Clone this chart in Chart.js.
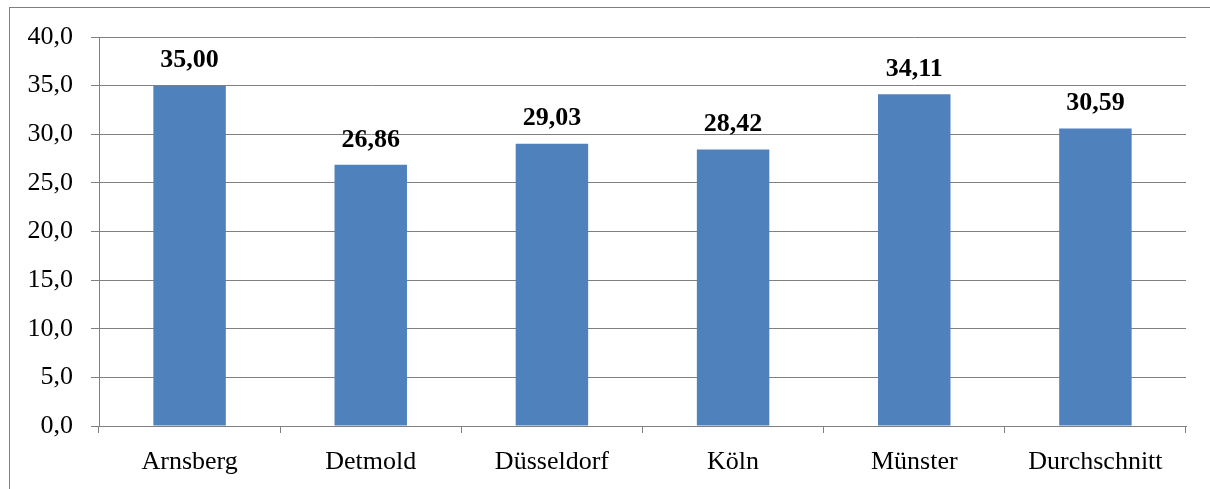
<!DOCTYPE html>
<html><head><meta charset="utf-8">
<script src="https://cdn.jsdelivr.net/npm/chart.js@4/dist/chart.umd.min.js"></script>
<style>
html,body{margin:0;padding:0;background:#fff;overflow:hidden}
#wrap{position:absolute;left:0;top:0;width:1210px;height:489px}
#frame{position:absolute;left:9px;top:7px;width:1210px;height:500px;border-left:1px solid #7f7f7f;border-top:1px solid #7f7f7f;pointer-events:none}
canvas{position:absolute;left:0;top:0}
</style></head><body>
<div id="wrap"><canvas id="c" width="1210" height="489"></canvas><div id="frame"></div></div>
<script>
const categories = ["Arnsberg","Detmold","Düsseldorf","Köln","Münster","Durchschnitt"];
const values = [35.00, 26.86, 29.03, 28.42, 34.11, 30.59];
const yTicks = [0,5,10,15,20,25,30,35,40];

const fmt = (v,d)=>v.toFixed(d).replace('.',',');
const labelPlugin = {
  id:'valLabels',
  afterDatasetsDraw(chart){
    const ctx = chart.ctx;
    const meta = chart.getDatasetMeta(0);
    ctx.save();
    ctx.font = 'bold 26px "Liberation Serif", "Times New Roman", serif';
    ctx.fillStyle = '#000';
    ctx.textAlign = 'center';
    ctx.textBaseline = 'middle';
    meta.data.forEach((bar,i)=>{
      ctx.fillText(fmt(values[i],2), bar.x, bar.y - 25);
    });
    ctx.restore();
  }
};

new Chart(document.getElementById('c'), {
  type:'bar',
  data:{labels:categories, datasets:[{data:values, backgroundColor:'#4F81BD', borderWidth:0, barPercentage:0.4, categoryPercentage:1}]},
  options:{
    responsive:false, animation:false,
    layout:{padding:{top:37,right:24,left:0,bottom:0}},
    plugins:{legend:{display:false}, tooltip:{enabled:false}},
    scales:{
      x:{
        grid:{display:true, drawOnChartArea:false, drawTicks:true, tickLength:7, offset:true, color:'#808080', lineWidth:1},
        border:{display:true, color:'#808080', width:1},
        ticks:{color:'#000', font:{family:'"Liberation Serif", "Times New Roman", serif', size:26}, padding:14, maxRotation:0, autoSkip:false},
        afterFit(s){ s.height = 63; }
      },
      y:{
        min:0, max:40,
        afterBuildTicks(s){ s.ticks = yTicks.map(v=>({value:v})); },
        grid:{color:'#808080', lineWidth:1, drawTicks:true, tickLength:8},
        border:{display:true, color:'#808080', width:1},
        ticks:{color:'#000', font:{family:'"Liberation Serif", "Times New Roman", serif', size:26}, padding:18, callback:(v)=>fmt(v,1)},
        afterFit(s){ s.width = 99; }
      }
    }
  },
  plugins:[labelPlugin]
});
</script>
</body></html>
